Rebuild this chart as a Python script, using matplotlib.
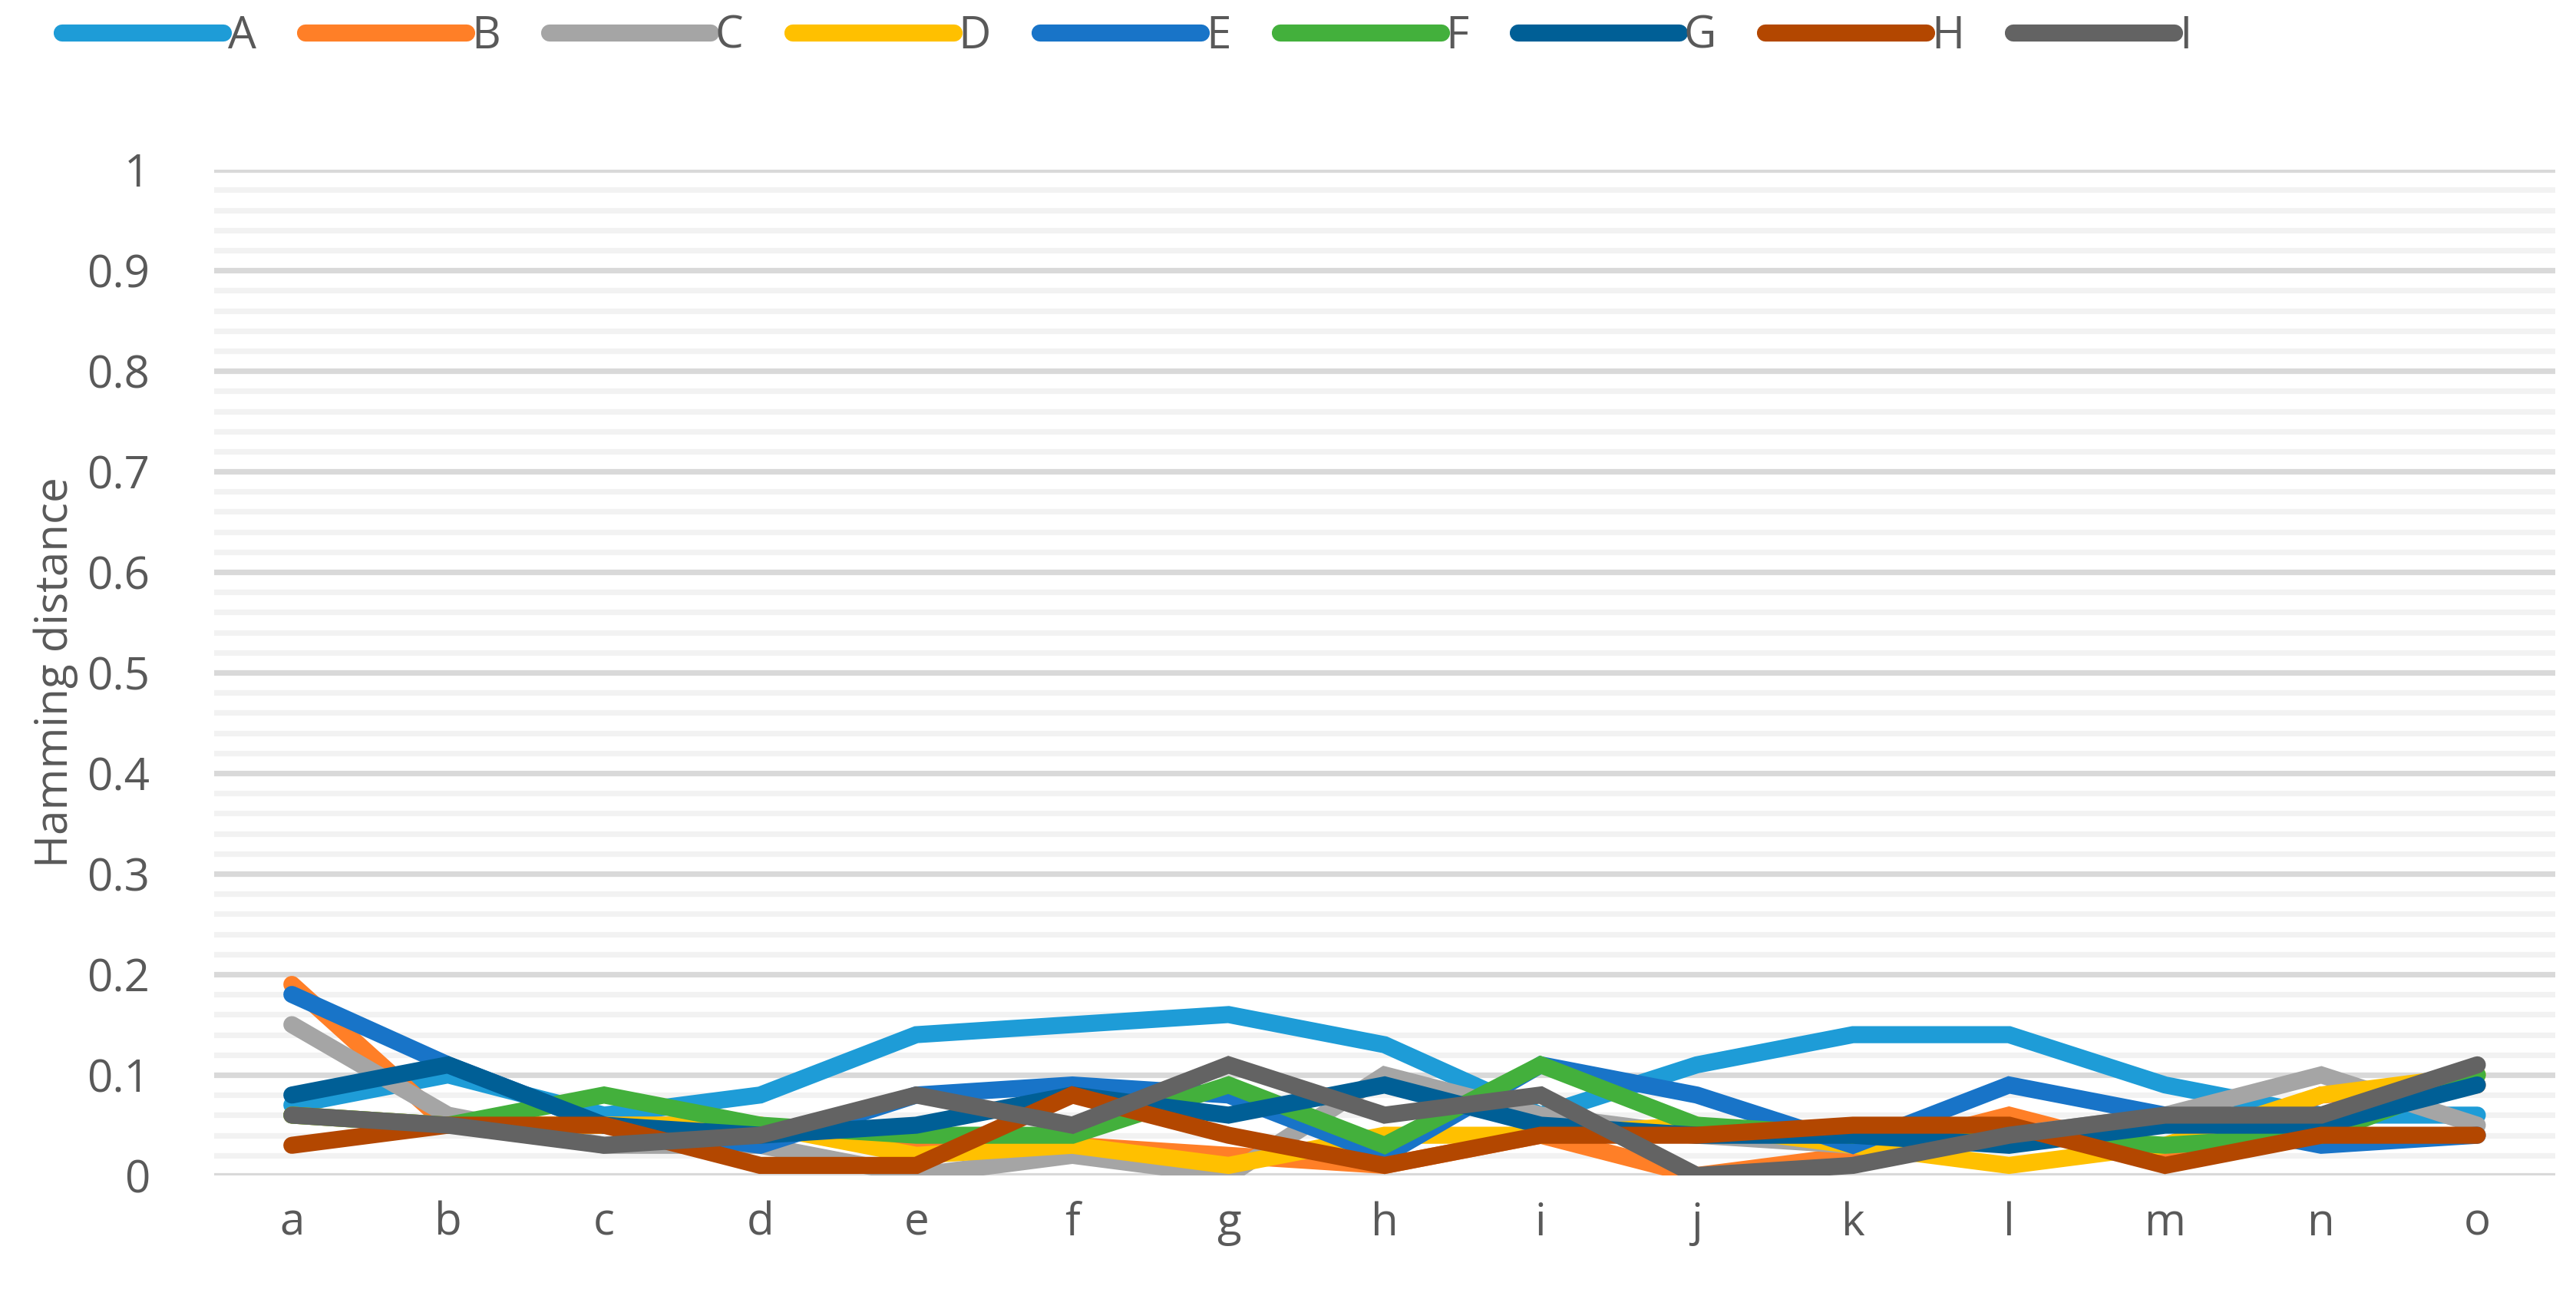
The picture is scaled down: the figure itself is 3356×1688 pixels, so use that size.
import numpy as np
import matplotlib.pyplot as plt
from matplotlib.ticker import MultipleLocator

plt.rcParams['font.family'] = ['Open Sans', 'DejaVu Sans']

# Categories and series
categories = list("abcdefghijklmno")
series_names = ["A", "B", "C", "D", "E", "F", "G", "H", "I"]
colors = ["#1E9CD7", "#FF7F27", "#A5A5A5", "#FFC000", "#1874C8",
          "#43B03C", "#005F96", "#B34700", "#636363"]

A = [0.07, 0.10, 0.06, 0.08, 0.14, 0.15, 0.16, 0.13, 0.06, 0.11, 0.14, 0.14, 0.09, 0.06, 0.06]
B = [0.19, 0.05, 0.05, 0.05, 0.03, 0.03, 0.02, 0.01, 0.04, 0.00, 0.02, 0.06, 0.02, 0.08, 0.09]
C = [0.15, 0.06, 0.03, 0.03, 0.00, 0.02, 0.00, 0.10, 0.06, 0.04, 0.03, 0.04, 0.06, 0.10, 0.05]
D = [0.06, 0.05, 0.05, 0.05, 0.02, 0.03, 0.01, 0.04, 0.04, 0.05, 0.03, 0.01, 0.03, 0.08, 0.10]
E = [0.18, 0.11, 0.05, 0.03, 0.08, 0.09, 0.08, 0.02, 0.11, 0.08, 0.03, 0.09, 0.06, 0.03, 0.04]
F = [0.06, 0.05, 0.08, 0.05, 0.04, 0.04, 0.09, 0.03, 0.11, 0.05, 0.04, 0.04, 0.03, 0.04, 0.10]
G = [0.08, 0.11, 0.05, 0.04, 0.05, 0.08, 0.06, 0.09, 0.05, 0.04, 0.04, 0.03, 0.05, 0.05, 0.09]
H = [0.03, 0.05, 0.05, 0.01, 0.01, 0.08, 0.04, 0.01, 0.04, 0.04, 0.05, 0.05, 0.01, 0.04, 0.04]
I = [0.06, 0.05, 0.03, 0.04, 0.08, 0.05, 0.11, 0.06, 0.08, 0.00, 0.01, 0.04, 0.06, 0.06, 0.11]
all_series = [A, B, C, D, E, F, G, H, I]

fig = plt.figure(figsize=(16.78, 8.44), dpi=200)
ax = fig.add_axes([0.083, 0.093, 0.909, 0.776])

x = np.arange(len(categories))
for name, vals, col in zip(series_names, all_series, colors):
    ax.plot(x, vals, color=col, linewidth=8, label=name,
            solid_capstyle="round", solid_joinstyle="miter")

ax.set_xlim(-0.5, len(categories) - 0.5)
ax.set_ylim(0, 1)
ax.yaxis.set_minor_locator(MultipleLocator(0.02))
ax.set_yticks(np.arange(0, 1.01, 0.1))
ax.set_yticklabels(["0"] + [f"{v:.1f}" for v in np.arange(0.1, 0.95, 0.1)] + ["1"])
ax.grid(which="major", axis="y", color="#D9D9D9", linewidth=2.6, zorder=0)
ax.grid(which="minor", axis="y", color="#F2F2F2", linewidth=2.6, zorder=0)
ax.set_axisbelow(True)
ax.set_xticks(x)
ax.set_xticklabels(categories)
ax.tick_params(which="both", length=0, labelsize=21, colors="#595959", pad=12)
ax.tick_params(axis="y", pad=30)
for s in ax.spines.values():
    s.set_visible(False)
ax.set_ylabel("Hamming distance", fontsize=21, color="#595959", labelpad=4)

ax.legend(loc="lower center", bbox_to_anchor=(0.39, 1.07), ncol=9, frameon=False,
          fontsize=21, labelcolor="#595959", handlelength=3.6, handletextpad=0.1,
          columnspacing=1.1)

fig.savefig("out.png", dpi=200)
